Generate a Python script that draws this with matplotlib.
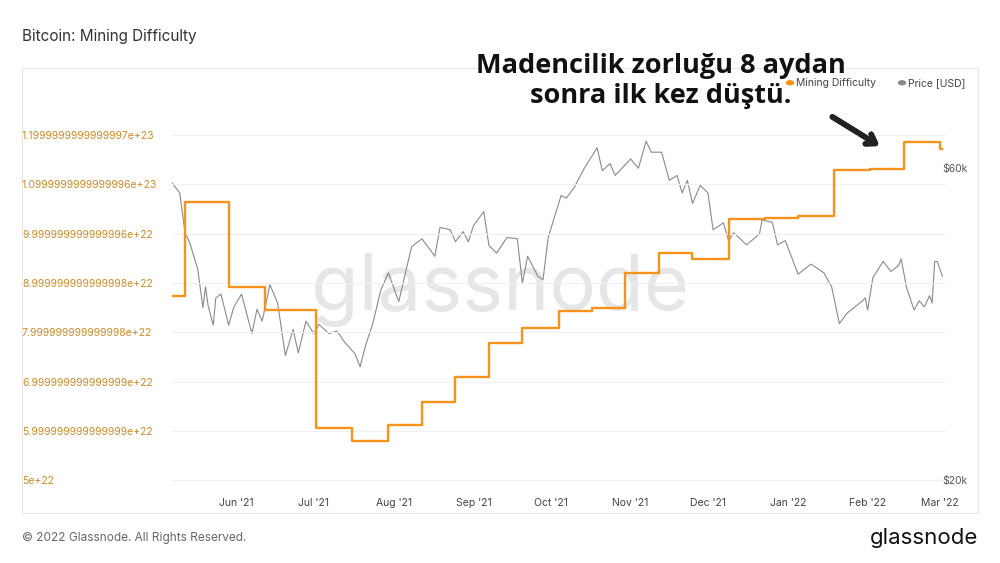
import numpy as np
import matplotlib.pyplot as plt
import matplotlib.dates as mdates
from matplotlib.patches import Rectangle

plt.rcParams['font.family'] = ['Inter', 'DejaVu Sans']

start = np.datetime64('2021-05-07')

# price (USD), days since start
price_days = [0, 3, 5, 7, 10, 12, 13, 14, 16, 17, 19, 22, 24, 27, 31, 33, 35, 38, 41, 44, 47, 49,
              52, 55, 57, 61, 64, 67, 71, 73, 75, 78, 81, 84, 88, 92, 93, 97, 102, 104, 108, 110,
              113, 115, 117, 121, 123, 126, 130, 134, 136, 138, 142, 144, 146, 151, 153, 156, 160,
              165, 167, 170, 172, 178, 181, 184, 186, 190, 193, 196, 198, 200, 202, 205, 208, 210,
              214, 216, 218, 223, 228, 229, 233, 235, 238, 243, 248, 253, 256, 259, 262, 268, 269,
              270, 272, 276, 279, 282, 283, 285, 288, 290, 292, 294, 295, 296, 297, 299]
price = [57000, 55000, 48000, 46000, 42000, 36700, 39500, 37000, 34500, 38000, 38500, 34500, 36800,
         38500, 33500, 36500, 35000, 39800, 37300, 31000, 34000, 31300, 35000, 33500, 34600, 33500,
         33800, 32500, 31200, 29800, 32000, 34800, 39000, 41500, 37500, 43800, 45500, 46800, 44000,
         48700, 48300, 46300, 48000, 46300, 49000, 51500, 45700, 44500, 47000, 46800, 40000, 44000,
         41000, 40500, 47000, 54500, 54000, 56000, 60000, 64500, 59500, 61000, 58500, 62000, 60000,
         66000, 63500, 63500, 57500, 58500, 55000, 57500, 53000, 56500, 55000, 48300, 49500, 46500,
         47800, 45800, 47600, 50000, 49600, 45800, 46500, 41300, 42800, 41500, 39500, 34700, 36000,
         37600, 38000, 36400, 40800, 43200, 41700, 42600, 43600, 39500, 36400, 37600, 36800, 38300,
         37300, 43200, 43200, 41000]

# mining difficulty (step changes), days since start
diff_days = [0, 5, 22, 36, 56, 70, 84, 97, 110, 123, 136, 150, 163, 176, 189, 202, 216, 230, 243,
             257, 271, 284, 298, 299]
difficulty = [8.73, 10.64, 8.91, 8.45, 6.05, 5.79, 6.12, 6.58, 7.09, 7.78, 8.08, 8.43, 8.49, 9.2,
              9.6, 9.48, 10.29, 10.33, 10.37, 11.3, 11.32, 11.87, 11.73, 11.73]
difficulty = [d * 1e22 for d in difficulty]

left_ticks = [5e22, 6e22, 7e22, 8e22, 9e22, 10e22, 11e22, 12e22]
left_labels = ['5e+22', '5.999999999999999e+22', '6.999999999999999e+22', '7.999999999999998e+22',
               '8.999999999999998e+22', '9.999999999999996e+22', '1.0999999999999996e+23',
               '1.1999999999999997e+23']

orange = '#f7931a'
grey = '#8a8a8a'

pd_dates = start + np.array(price_days).astype('timedelta64[D]')
dd_dates = start + np.array(diff_days).astype('timedelta64[D]')

fig = plt.figure(figsize=(10, 5.63), dpi=100)
fig.patches.append(Rectangle((0.022, 0.089), 0.956, 0.79, transform=fig.transFigure,
                             fill=False, edgecolor='#e6e6e6', linewidth=0.8))

ax = fig.add_axes([0.172, 0.1297, 0.773, 0.701])
ax2 = ax.twinx()

ax.step(dd_dates, difficulty, where='post', color=orange, linewidth=1.7, zorder=3)
ax.set_ylim(4.8e22, 12.81e22)
ax.set_yticks(left_ticks)
ax.set_yticklabels(left_labels)
ax.tick_params(axis='y', length=0, labelcolor='#d08a2a', labelsize=7.5, pad=108)
for lab in ax.get_yticklabels():
    lab.set_horizontalalignment('left')
ax.grid(axis='y', color='#f0f0f0', linewidth=0.8)
ax.set_axisbelow(True)

ax2.plot(pd_dates, price, color=grey, linewidth=0.8, zorder=2)
ax2.set_yscale('log')
ax2.set_ylim(19300, 77600)
ax2.set_yticks([20000, 60000])
ax2.set_yticklabels(['$20k', '$60k'])
ax2.minorticks_off()
ax2.tick_params(axis='y', length=0, labelcolor='#555555', labelsize=7.5, pad=-2)
ax2.set_zorder(1)
ax.set_zorder(2)
ax.patch.set_visible(False)

ax.set_xlim(start, start + np.timedelta64(300, 'D'))
ax.xaxis.set_major_locator(mdates.MonthLocator())
ax.xaxis.set_major_formatter(mdates.DateFormatter("%b '%y"))
ax.tick_params(axis='x', length=0, labelsize=7.5, labelcolor='#444444', pad=6)
for a in (ax, ax2):
    for s in a.spines.values():
        s.set_visible(False)

fig.text(0.5, 0.485, 'glassnode', fontsize=56, color='#e6e6e6', ha='center', va='center',
         zorder=0)

fig.text(0.022, 0.935, 'Bitcoin: Mining Difficulty', fontsize=11, color='#333333', va='center')
fig.text(0.661, 0.857, 'Madencilik zorluğu 8 aydan\nsonra ilk kez düştü.', fontsize=19.5,
         fontweight='bold', ha='center', va='center', linespacing=1.2, color='#111111',
         family=['Open Sans', 'DejaVu Sans'], zorder=5)
fig.patches.append(plt.Circle((0.79, 0.853), 0.0035, color=orange, transform=fig.transFigure))
fig.text(0.796, 0.853, 'Mining Difficulty', fontsize=7.5, color='#444444', va='center')
fig.patches.append(plt.Circle((0.902, 0.853), 0.0035, color=grey, transform=fig.transFigure))
fig.text(0.908, 0.853, 'Price [USD]', fontsize=7.5, color='#444444', va='center')
fig.add_artist(plt.annotate('', xy=(0.882, 0.738), xytext=(0.83, 0.795), xycoords='figure fraction',
                            arrowprops=dict(arrowstyle='->,head_width=0.4,head_length=0.6',
                                            color='#222222', linewidth=4)))

fig.text(0.022, 0.044, '© 2022 Glassnode. All Rights Reserved.', fontsize=8.5, color='#666666',
         va='center')
fig.text(0.978, 0.044, 'glassnode', fontsize=16, color='#111111', ha='right', va='center')

fig.savefig('out.png', dpi=100)
